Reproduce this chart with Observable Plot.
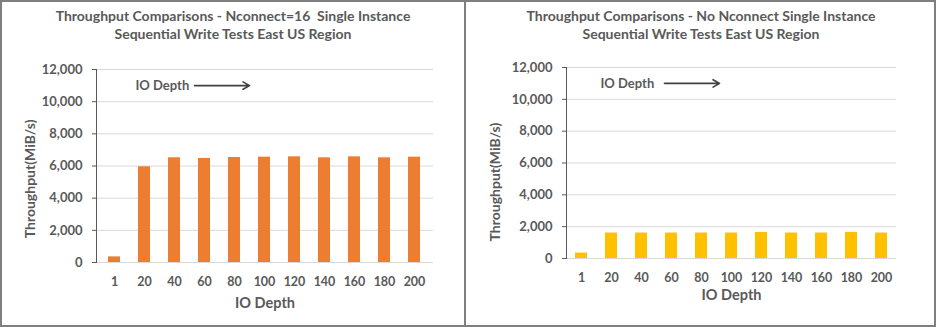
<!DOCTYPE html>
<html>
<head>
<meta charset="utf-8">
<script src="https://cdn.jsdelivr.net/npm/d3@7"></script>
<script src="https://cdn.jsdelivr.net/npm/@observablehq/plot@0.6"></script>
<style>
  html, body { margin: 0; padding: 0; background: #fff; }
  #wrap { position: relative; width: 936px; height: 327px; overflow: hidden; font-family: Lato, "Liberation Sans", sans-serif; }
  .panel { position: absolute; top: 0; height: 327px; }
  .panel svg { position: absolute; left: 0; top: 0; }
  .title { position: absolute; left: 0; right: 0; top: 7px; text-align: center; font-weight: 700; font-size: 14px; line-height: 18px; color: #595959; }
  .border { position: absolute; box-sizing: border-box; border: 2px solid #7f7f7f; pointer-events: none; }
</style>
</head>
<body>
<div id="wrap"></div>
<script>
// ---- data ----
const depths = ["1", "20", "40", "60", "80", "100", "120", "140", "160", "180", "200"];
const nconnectValues = [350, 5950, 6510, 6470, 6530, 6550, 6570, 6510, 6570, 6510, 6550];
const noNconnectValues = [340, 1600, 1600, 1600, 1600, 1600, 1640, 1600, 1600, 1640, 1600];
const yTicks = [0, 2000, 4000, 6000, 8000, 10000, 12000];
const titlesLeft = ["Throughput Comparisons - Nconnect=16\u00a0\u00a0Single Instance", "Sequential Write Tests East US Region"];
const titlesRight = ["Throughput Comparisons - No Nconnect Single Instance", "Sequential Write Tests East US Region"];
const yLabel = "Throughput(MiB/s)";
const xLabel = "IO Depth";
const annotation = "IO Depth";

const textColor = "#595959";
const font = "Lato, 'Liberation Sans', sans-serif";

function makePanel(cfg) {
  const data = depths.map((d, i) => ({depth: d, value: cfg.values[i]}));
  const panel = document.createElement("div");
  panel.className = "panel";
  panel.style.left = cfg.left + "px";
  panel.style.width = cfg.width + "px";

  const chart = Plot.plot({
    width: cfg.width,
    height: 327,
    marginLeft: cfg.ml,
    marginRight: cfg.mr,
    marginTop: cfg.mt,
    marginBottom: cfg.mb,
    style: {fontFamily: font, fontWeight: "700", fontSize: "13px", color: textColor, background: "transparent", overflow: "visible"},
    x: {domain: depths, paddingInner: 0.587, paddingOuter: 0.28, label: null},
    y: {domain: [0, 12000], label: null},
    marks: [
      Plot.ruleY(yTicks, {stroke: "#d9d9d9", strokeWidth: 1}),
      Plot.barY(data, {x: "depth", y: "value", fill: cfg.color}),
      Plot.frame({anchor: "left", stroke: "#595959", strokeWidth: 1}),
      Plot.axisY({ticks: yTicks, tickSize: 4, tickPadding: 10, tickFormat: d3.format(","), fontSize: 13, stroke: "#595959", fill: textColor, label: null}),
      Plot.axisX({tickSize: 0, tickPadding: cfg.xtp, fontSize: 12.5, fill: textColor, label: null}),
      Plot.text([annotation], {x: () => "20", y: () => 11000, dx: cfg.annDx, textAnchor: "start", fontSize: 13, fill: textColor}),
      Plot.arrow([0], {x1: () => "60", x2: () => "100", y1: () => 11000, y2: () => 11000, dx: cfg.arrDx, insetEnd: 5, bend: 0, headLength: 7, stroke: "#404040", strokeWidth: 1.6}),
      Plot.text([yLabel], {frameAnchor: "left", y: () => cfg.ylY, textAnchor: "middle", rotate: -90, dx: cfg.ylDx, fontSize: 14, fill: textColor}),
      Plot.text([xLabel], {frameAnchor: "bottom", dy: cfg.xlDy, fontSize: 14.5, fill: textColor})
    ]
  });
  panel.appendChild(chart);

  const title = document.createElement("div");
  title.className = "title";
  title.innerHTML = cfg.titles.join("<br>");
  panel.appendChild(title);
  return panel;
}

const wrap = document.getElementById("wrap");
wrap.appendChild(makePanel({
  left: 0, width: 466, ml: 96, mr: 33, mt: 69, mb: 65,
  values: nconnectValues, color: "#ED7D31", titles: titlesLeft,
  xtp: 15, annDx: -9, arrDx: -10, ylDx: -66, ylY: 5200, xlDy: 45
}));
wrap.appendChild(makePanel({
  left: 466, width: 470, ml: 100, mr: 40, mt: 67, mb: 69,
  values: noNconnectValues, color: "#FFC000", titles: titlesRight,
  xtp: 15, annDx: -11, arrDx: -7, ylDx: -71, ylY: 4800, xlDy: 41
}));

// borders
const outer = document.createElement("div");
outer.className = "border";
Object.assign(outer.style, {left: "0px", top: "0px", width: "936px", height: "327px"});
wrap.appendChild(outer);
const divider = document.createElement("div");
divider.className = "border";
Object.assign(divider.style, {left: "464px", top: "0px", width: "2px", height: "327px", border: "none", background: "#7f7f7f"});
wrap.appendChild(divider);
</script>
</body>
</html>
